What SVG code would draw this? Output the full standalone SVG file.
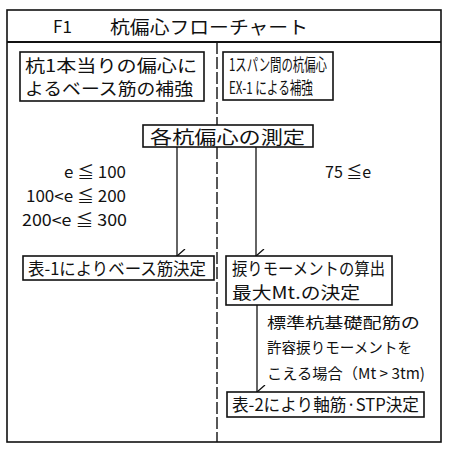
<svg xmlns="http://www.w3.org/2000/svg" width="450" height="453" viewBox="0 0 450 453">
<style>
text{font-family:"Noto Sans CJK JP","Noto Sans",sans-serif;fill:#111;}
.box{fill:#fff;stroke:#111;stroke-width:1.6;}
.t{font-size:17px;}
.s{font-size:15px;}
.lbl{font-size:16px;}
.conn{stroke:#111;stroke-width:1.3;fill:none;}
</style>
<defs>
<marker id="arr" viewBox="0 0 14 10" refX="7" refY="9" markerWidth="14" markerHeight="10" markerUnits="userSpaceOnUse" orient="auto-start-reverse">
<path d="M0,1 L7,9 L14,1" fill="none" stroke="#111" stroke-width="1.3"/>
</marker>
</defs>
<rect width="450" height="453" fill="#fff"/>
<g id="frame">
<rect x="7" y="10" width="434" height="432" fill="none" stroke="#111" stroke-width="1.6"/>
<line x1="7" y1="42" x2="441" y2="42" stroke="#111" stroke-width="2"/>
<line x1="217" y1="42" x2="217" y2="442" stroke="#111" stroke-width="1.4" stroke-dasharray="12 3"/>
</g>
<g id="title">
<text x="53" y="33" font-size="17">F1</text>
<text x="110" y="34" font-size="18" textLength="198" lengthAdjust="spacingAndGlyphs">杭偏心フローチャート</text>
</g>
<g id="connectors">
<line class="conn" x1="177" y1="147" x2="177" y2="256" marker-end="url(#arr)"/>
<line class="conn" x1="256" y1="147" x2="256" y2="256" marker-end="url(#arr)"/>
<line class="conn" x1="257" y1="305" x2="257" y2="392" marker-end="url(#arr)"/>
</g>
<g id="node-left-top">
<rect class="box" x="20" y="52" width="184" height="49"/>
<text class="t" x="25" y="72" textLength="172" lengthAdjust="spacingAndGlyphs">杭1本当りの偏心に</text>
<text class="t" x="25" y="95" textLength="168" lengthAdjust="spacingAndGlyphs">よるベース筋の補強</text>
</g>
<g id="node-right-top">
<rect class="box" x="223" y="52" width="110" height="48"/>
<text class="t" x="229" y="71" textLength="98" lengthAdjust="spacingAndGlyphs">1スパン間の杭偏心</text>
<text class="t" x="229" y="94" textLength="84" lengthAdjust="spacingAndGlyphs">EX-1 による補強</text>
</g>
<g id="node-measure">
<rect class="box" x="143" y="125" width="170" height="22"/>
<text x="150" y="144" font-size="18" textLength="155" lengthAdjust="spacingAndGlyphs">各杭偏心の測定</text>
</g>
<g id="labels">
<text class="lbl" x="126" y="178" text-anchor="end" textLength="62" lengthAdjust="spacingAndGlyphs">e ≦ 100</text>
<text class="lbl" x="126" y="202" text-anchor="end" textLength="100" lengthAdjust="spacingAndGlyphs">100&lt;e ≦ 200</text>
<text class="lbl" x="127" y="226" text-anchor="end" textLength="105" lengthAdjust="spacingAndGlyphs">200&lt;e ≦ 300</text>
<text class="lbl" x="325" y="178">75 ≦e</text>
</g>
<g id="node-table1">
<rect class="box" x="23" y="256" width="191" height="24"/>
<text class="t" x="28" y="275" textLength="178" lengthAdjust="spacingAndGlyphs">表-1によりベース筋決定</text>
</g>
<g id="node-torsion">
<rect class="box" x="226" y="256" width="166" height="49"/>
<text class="t" x="232" y="275" textLength="153" lengthAdjust="spacingAndGlyphs">捩りモーメントの算出</text>
<text class="t" x="232" y="299" textLength="128" lengthAdjust="spacingAndGlyphs">最大Mt.の決定</text>
</g>
<g id="condition">
<text class="s" x="267" y="328" textLength="153" lengthAdjust="spacingAndGlyphs">標準杭基礎配筋の</text>
<text class="s" x="267" y="353" textLength="145" lengthAdjust="spacingAndGlyphs">許容捩りモーメントを</text>
<text class="s" x="267" y="379" textLength="158" lengthAdjust="spacingAndGlyphs">こえる場合（Mt &gt; 3tm)</text>
</g>
<g id="node-table2">
<rect class="box" x="227" y="392" width="197" height="25"/>
<text class="t" x="232" y="411" textLength="187" lengthAdjust="spacingAndGlyphs">表-2により軸筋·STP決定</text>
</g>
</svg>
